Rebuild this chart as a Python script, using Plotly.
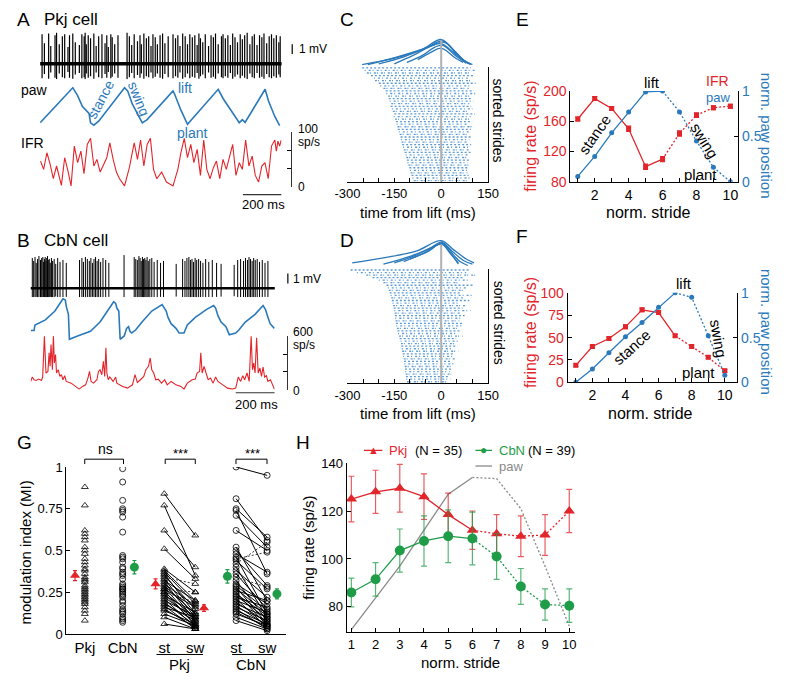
import plotly.graph_objects as go

# ======================= DATA =======================
# ---- Panel A : Pkj cell (time in ms) ----
A_spike_t = [10, 22, 44, 55, 77, 85, 99, 115, 127, 144, 152, 169, 182, 203, 216, 228, 233, 239, 249, 261,
             278, 290, 303, 320, 336, 345, 353, 366, 373, 386, 403, 450, 462, 474, 487, 504, 517, 524, 537, 550,
             562, 574, 584, 596, 607, 621, 634, 646, 663, 688, 701, 713, 724, 738, 751, 763, 775, 788, 801, 813,
             822, 830, 842, 855, 872, 885, 897, 908, 922, 939, 947, 959, 972, 985, 997, 1009, 1022, 1036, 1047, 1059,
             1072, 1086, 1098, 1109, 1123, 1136, 1148, 1159, 1173, 1186, 1198, 1210, 1223, 1236, 1243]
A_spike_mv = [3.0, 2.1, 3.1, 1.8, 2.9, 3.2, 2.0, 2.8, 3.0, 1.7, 2.9, 3.1, 2.2, 1.9, 3.0, 2.8, 3.2, 2.0, 2.9, 2.6,
              3.1, 1.8, 2.8, 3.0, 2.1, 2.9, 1.7, 3.0, 2.7, 2.0, 2.9, 3.2, 2.8, 1.9, 3.0, 2.3, 2.9, 2.0, 3.1, 2.6,
              2.8, 1.8, 3.0, 2.7, 2.0, 2.9, 3.1, 2.1, 2.8, 3.0, 2.6, 2.9, 1.8, 3.1, 2.8, 2.0, 3.0, 2.7, 2.9, 1.9,
              3.1, 2.6, 2.2, 3.0, 1.8, 2.9, 2.7, 3.1, 2.0, 2.8, 3.0, 2.6, 2.9, 1.9, 3.1, 2.7, 2.2, 3.0, 2.5, 2.9,
              3.2, 2.0, 2.8, 3.0, 1.9, 2.9, 2.7, 3.1, 2.1, 2.8, 3.0, 2.6, 2.9, 2.2, 2.8]
A_paw_t = [0, 169, 194, 219, 253, 261, 278, 303, 437, 453, 477, 512, 529, 554, 688, 696, 729, 763,
           922, 948, 998, 1031, 1047, 1061, 1165, 1182, 1215, 1240]
A_paw_v = [0.09, 0.98, 0.78, 0.50, 0.33, 0.09, 0.03, 0.13, 0.98, 0.90, 0.57, 0.25, 0.09, 0.17, 0.90, 0.82, 0.41, 0.05,
           0.94, 0.70, 0.33, 0.09, 0.17, 0.10, 0.94, 0.65, 0.25, 0.02]
A_ifr_t = [2, 18, 35, 52, 68, 85, 110, 127, 144, 160, 177, 194, 211, 227, 244, 261, 278, 294, 311, 328,
           345, 361, 378, 395, 411, 437, 462, 487, 504, 520, 537, 554, 571, 587, 604, 629, 654, 688, 713, 729,
           746, 763, 780, 796, 813, 830, 847, 863, 880, 897, 913, 930, 947, 964, 980, 997, 1014, 1031, 1047, 1064,
           1081, 1098, 1114, 1131, 1148, 1164, 1181, 1198, 1215, 1223, 1231, 1240, 1248]
A_ifr_v = [47, 32, 62, 41, 15, 38, 3, 53, 29, 2, 74, 44, 65, 24, 77, 88, 38, 50, 27, 41,
           53, 80, 50, 27, 15, 2, 35, 80, 50, 85, 38, 77, 88, 32, 15, 27, 9, 2, 32, 62,
           88, 53, 77, 44, 68, 21, 85, 32, 15, 35, 47, 15, 50, 32, 53, 77, 21, 44, 32, 85,
           38, 56, 21, 9, 38, 44, 15, 74, 85, 65, 83, 74, 85]

# ---- Panel B : CbN cell (time in ms) ----
B_spike_t = [8, 15, 22, 28, 35, 42, 50, 56, 62, 66, 70, 74, 78, 82, 86, 90, 95, 100, 106, 112, 120, 128, 138, 150, 165, 182,
             250, 262, 270, 280, 290, 300, 308, 316, 324, 332, 340, 348, 358, 370, 384, 400,
             478,
             530, 538, 546, 554, 560, 566, 572, 578, 584, 590, 596, 602, 610, 620, 632, 648, 665, 680,
             745,
             778, 790, 800, 810, 818, 826, 834, 842, 850, 860, 870, 882, 896, 912, 930, 952, 975,
             1042, 1060, 1075, 1090, 1100, 1110, 1118, 1126, 1134, 1142, 1150, 1160, 1172, 1186, 1200, 1215]
B_spike_mv = [3.1, 2.8, 3.2, 2.6, 3.0, 3.3, 2.9, 3.1, 3.2, 2.7, 3.0, 3.2, 2.8, 3.1, 3.3, 2.9, 3.0, 2.6, 3.1, 2.8,
              3.0, 2.5, 3.1, 2.7, 2.9, 2.6,
              2.9, 3.1, 2.7, 3.2, 3.0, 2.8, 3.1, 2.6, 3.0, 3.2, 2.8, 3.0, 2.7, 3.1, 2.9, 2.6,
              3.4,
              3.2, 3.0, 2.9, 3.3, 3.1, 2.8, 3.2, 3.0, 3.1, 2.9, 3.2, 2.8, 3.0, 3.1, 2.7, 2.9, 2.6, 2.8,
              2.5,
              3.0, 2.8, 3.1, 3.2, 2.9, 3.0, 2.7, 3.1, 2.9, 3.0, 2.8, 2.6, 3.0, 2.7, 2.9, 2.6, 2.5,
              2.4, 2.9, 3.0, 2.8, 3.1, 2.9, 3.2, 3.0, 2.8, 3.1, 2.9, 3.0, 2.7, 2.9, 2.6, 2.8]
B_paw_t = [0, 17, 22, 75, 124, 165, 177, 182, 193, 198, 240, 306, 355, 405, 425, 435, 441, 451, 458, 479,
           491, 501, 508, 517, 537, 570, 620, 673, 686, 694, 703, 719, 744, 760, 785, 802, 843, 901, 937, 947,
           959, 975, 1000, 1017, 1050, 1066, 1099, 1149, 1190, 1202, 1215, 1226, 1248]
B_paw_v = [0.23, 0.23, 0.36, 0.48, 0.69, 0.98, 0.95, 0.80, 0.61, 0.02, 0.10, 0.21, 0.43, 0.76, 0.91, 0.87, 0.76, 0.69, 0.02, 0.10,
           0.28, 0.32, 0.21, 0.17, 0.24, 0.43, 0.69, 0.84, 0.76, 0.69, 0.54, 0.39, 0.28, 0.17, 0.17, 0.36, 0.54, 0.73, 0.82, 0.76,
           0.58, 0.43, 0.32, 0.13, 0.17, 0.24, 0.43, 0.61, 0.82, 0.73, 0.54, 0.39, 0.28]
B_ifr_t = [0, 8, 17, 28, 41, 55, 61, 70, 78, 88, 94, 99, 104, 111, 116, 121, 127, 132, 141, 149,
           157, 165, 174, 182, 207, 232, 248, 265, 281, 293, 301, 309, 322, 339, 347, 355, 364, 372, 379, 385,
           390, 397, 405, 422, 435, 441, 471, 496, 521, 534, 546, 562, 579, 590, 603, 612, 620, 630, 640, 653,
           670, 686, 699, 719, 744, 769, 785, 802, 815, 827, 843, 852, 865, 871, 878, 888, 898, 909, 921, 934,
           947, 959, 984, 1008, 1033, 1050, 1063, 1075, 1086, 1096, 1108, 1119, 1129, 1136, 1142, 1149, 1157, 1165, 1174, 1182,
           1190, 1198, 1207, 1215, 1228, 1240, 1248]
B_ifr_v = [94, 143, 113, 105, 120, 105, 143, 600, 188, 206, 413, 263, 506, 225, 610, 300, 394, 188, 225, 150,
           169, 113, 158, 94, 75, 38, 8, 38, 56, 131, 206, 94, 75, 113, 206, 225, 169, 319, 150, 469,
           188, 113, 143, 94, 143, 75, 38, 19, 56, 169, 83, 113, 150, 225, 263, 356, 225, 188, 113, 120,
           75, 113, 56, 94, 56, 38, 8, 75, 94, 113, 120, 188, 206, 413, 188, 263, 188, 113, 131, 75,
           143, 94, 56, 19, 8, 19, 143, 94, 158, 113, 188, 94, 600, 225, 300, 188, 581, 188, 244, 150,
           255, 143, 158, 94, 113, 38, 8]

# ---- Panels C / D : sorted strides (raster spans, ms) and paw trajectories ----
C_row_start = [-253, -245, -238, -225, -215, -212, -200, -195, -185, -178, -176, -170, -168, -165, -160, -162,
               -158, -155, -150, -152, -148, -145, -143, -140, -139, -136, -133, -130, -129, -127, -125, -122,
               -120, -117, -114, -112, -110, -108, -105, -102, -100, -98, -95, -92, -88]
C_row_end = [95, 110, 90, 105, 85, 100, 110, 95, 88, 102, 115, 92, 98, 105, 90, 96, 100, 85, 108, 94, 90, 99,
             87, 103, 95, 92, 88, 97, 90, 84, 96, 92, 88, 94, 86, 90, 95, 85, 92, 88, 90, 84, 88, 92, 85]
C_curve_t = [[-253, -150, -60, 0, 40, 70, 90],
             [-235, -140, -50, 5, 45, 75, 95],
             [-200, -120, -40, 10, 50, 80, 100],
             [-150, -90, -30, 0, 40, 75, 95],
             [-110, -60, -20, 5, 45, 80],
             [-75, -35, -5, 10, 40, 70]]
C_curve_v = [[0.07, 0.30, 0.62, 0.97, 0.60, 0.25, 0.10],
             [0.07, 0.35, 0.66, 0.92, 0.50, 0.20, 0.08],
             [0.10, 0.35, 0.70, 0.87, 0.45, 0.15, 0.08],
             [0.10, 0.40, 0.75, 0.82, 0.50, 0.20, 0.10],
             [0.15, 0.40, 0.70, 0.76, 0.40, 0.12],
             [0.25, 0.50, 0.65, 0.62, 0.35, 0.15]]

D_row_start = [-290, -270, -240, -220, -200, -185, -175, -171, -168, -165, -162, -160, -158, -156, -154, -152,
               -150, -149, -148, -147, -146, -145, -144, -142, -140, -138, -135, -133, -130, -129, -128, -126,
               -125, -123, -122, -120, -119, -118, -117, -116, -115, -114, -113, -112, -110]
D_row_end = [90, 80, 110, 70, 95, 60, 105, 85, 75, 65, 100, 70, 90, 55, 80, 68, 95, 60, 75, 62, 58, 70,
             65, 55, 60, 50, 68, 48, 58, 45, 52, 40, 55, 42, 38, 45, 35, 40, 30, 36, 28, 32, 25, 30, 22]
D_curve_t = [[-285, -180, -80, 0, 40, 80, 105],
             [-185, -100, -30, 0, 35, 70, 100],
             [-150, -80, -20, 5, 40, 60, 85],
             [-120, -60, -10, 5, 30, 55],
             [-100, -40, 0, 25, 55]]
D_curve_v = [[0.15, 0.35, 0.60, 1.00, 0.65, 0.30, 0.15],
             [0.10, 0.40, 0.75, 0.95, 0.60, 0.25, 0.10],
             [0.15, 0.45, 0.80, 0.90, 0.45, 0.20, 0.05],
             [0.20, 0.50, 0.85, 0.85, 0.50, 0.15],
             [0.30, 0.60, 0.90, 0.60, 0.10]]

# ---- Panels E / F : normalized stride ----
strides = [1, 2, 3, 4, 5, 6, 7, 8, 9, 10]
E_ifr = [163, 190, 177, 150, 100, 110, 144, 168, 178, 180]
E_ifr_err = [2.5, 2.5, 2.5, 3.5, 3.5, 3.5, 3.5, 3, 2.5, 2.5]
E_paw = [0.06, 0.28, 0.54, 0.77, 0.99, 1.0, 0.77, 0.45, 0.16, 0.0]
E_lift = 6
F_ifr = [19, 40, 49, 62, 81, 78, 52, 40, 28, 13]
F_ifr_err = [1.5, 1.5, 1.5, 2, 2, 2, 1.5, 1.5, 1.5, 1.5]
F_paw = [0.0, 0.15, 0.33, 0.51, 0.67, 0.84, 1.0, 0.95, 0.52, 0.08]
F_lift = 7

# ---- Panel G : modulation index ----
G_pkj = [0.88, 0.77, 0.62, 0.60, 0.58, 0.56, 0.52, 0.50, 0.48, 0.45, 0.43, 0.41, 0.39, 0.38, 0.36, 0.34, 0.33,
         0.32, 0.31, 0.29, 0.28, 0.27, 0.26, 0.25, 0.24, 0.23, 0.22, 0.21, 0.20, 0.19, 0.18, 0.16, 0.14, 0.12, 0.08]
G_cbn = [0.99, 0.91, 0.80, 0.75, 0.74, 0.73, 0.70, 0.61, 0.47, 0.46, 0.45, 0.43, 0.40, 0.39, 0.37, 0.36, 0.35,
         0.33, 0.30, 0.29, 0.28, 0.27, 0.26, 0.25, 0.24, 0.23, 0.22, 0.20, 0.19, 0.17, 0.15, 0.14, 0.13, 0.12,
         0.10, 0.09, 0.08, 0.07, 0.27]
G_pkj_st = [0.84, 0.77, 0.62, 0.51, 0.39, 0.38, 0.37, 0.36, 0.35, 0.34, 0.33, 0.32, 0.31, 0.30, 0.29, 0.28, 0.27,
            0.26, 0.25, 0.25, 0.24, 0.23, 0.22, 0.21, 0.20, 0.19, 0.18, 0.17, 0.16, 0.15, 0.14, 0.12, 0.10, 0.06, 0.27]
G_pkj_sw = [0.59, 0.35, 0.40, 0.33, 0.25, 0.20, 0.18, 0.12, 0.15, 0.30, 0.10, 0.20, 0.08, 0.17, 0.12, 0.07, 0.16,
            0.05, 0.10, 0.19, 0.06, 0.13, 0.09, 0.04, 0.11, 0.05, 0.08, 0.03, 0.10, 0.04, 0.06, 0.05, 0.03, 0.03, 0.25]
G_pkj_ns = [9, 19, 34]
G_cbn_st = [1.00, 0.81, 0.75, 0.74, 0.71, 0.62, 0.52, 0.50, 0.48, 0.46, 0.44, 0.42, 0.40, 0.38, 0.36, 0.34, 0.32,
            0.30, 0.29, 0.28, 0.27, 0.26, 0.25, 0.24, 0.23, 0.22, 0.21, 0.20, 0.19, 0.18, 0.17, 0.16, 0.15, 0.14,
            0.13, 0.12, 0.10, 0.08, 0.45]
G_cbn_sw = [0.95, 0.56, 0.58, 0.36, 0.52, 0.50, 0.20, 0.29, 0.37, 0.12, 0.27, 0.55, 0.10, 0.22, 0.15, 0.28, 0.08,
            0.18, 0.14, 0.06, 0.12, 0.20, 0.05, 0.11, 0.09, 0.16, 0.04, 0.13, 0.07, 0.10, 0.05, 0.08, 0.03, 0.06,
            0.04, 0.05, 0.03, 0.02, 0.49]
G_cbn_ns = [11, 15, 38]
G_mean = {'pkj': (0.35, 0.03), 'cbn': (0.40, 0.04), 'pkj_st': (0.30, 0.03),
          'pkj_sw': (0.155, 0.02), 'cbn_st': (0.345, 0.04), 'cbn_sw': (0.24, 0.03)}
G_labels = ['Pkj', 'CbN', 'st', 'sw', 'st', 'sw']

# ---- Panel H : population firing rate ----
H_pkj = [125, 128, 129.5, 126, 118.5, 112, 110.5, 109.5, 110, 120]
H_pkj_err = [9.5, 9, 10, 9.5, 9, 8, 8, 8.5, 8.5, 9]
H_cbn = [86, 91.5, 103.5, 107.5, 109.5, 108.5, 101, 88.5, 81, 80.5]
H_cbn_err = [6, 7, 9, 10.5, 11, 11, 9.5, 7.5, 6.5, 7]
H_paw = [70.5, 83.5, 97, 112, 127, 134, 133.5, 121, 97, 72]
H_lift = 6

# ======================= STYLE / LAYOUT =======================
BLUE = '#2a79bb'
RASTER = '#5c9bd6'
RED = '#e2252b'
GREEN = '#1f9c48'
GREY = '#8a8a8a'
FONT = 'Liberation Sans, Arial, sans-serif'
W, H = 787, 683
RASTER_DASHES = ['2px,2px', '1px,3px,2px,2px', '2px,1px,1px,3px']


def X(px):
    return px / W


def Y(py):
    return 1 - py / H


# G slot positions (layout)
G_POS = {'pkj': 1.0, 'cbn': 2.0, 'pkj_st': 3.1, 'pkj_sw': 3.92, 'cbn_st': 5.0, 'cbn_sw': 5.82}
G_MPOS = {'pkj': 0.74, 'cbn': 2.31, 'pkj_st': 2.87, 'pkj_sw': 4.15, 'cbn_st': 4.77, 'cbn_sw': 6.08}

fig = go.Figure()


def add(tr):
    tr.hoverinfo = 'skip'
    fig.add_trace(tr)


def spike_xy(times, mv, down):
    xs, ys = [], []
    for t, u in zip(times, mv):
        xs += [t, t, None]
        ys += [-u * down, u, None]
    return xs, ys


# ---- A ----
xs, ys = spike_xy(A_spike_t, A_spike_mv, 0.5)
add(go.Scatter(x=xs, y=ys, mode='lines', line=dict(color='black', width=1.2), xaxis='x', yaxis='y'))
add(go.Scatter(x=A_paw_t, y=A_paw_v, mode='lines', line=dict(color=BLUE, width=1.6), xaxis='x', yaxis='y2'))
add(go.Scatter(x=A_ifr_t, y=A_ifr_v, mode='lines', line=dict(color=RED, width=1.1), xaxis='x', yaxis='y3'))
# ---- B ----
xs, ys = spike_xy(B_spike_t, B_spike_mv, 0.34)
add(go.Scatter(x=xs, y=ys, mode='lines', line=dict(color='black', width=1), xaxis='x2', yaxis='y4'))
add(go.Scatter(x=B_paw_t, y=B_paw_v, mode='lines', line=dict(color=BLUE, width=1.6), xaxis='x2', yaxis='y5'))
add(go.Scatter(x=B_ifr_t, y=B_ifr_v, mode='lines', line=dict(color=RED, width=1.1), xaxis='x2', yaxis='y6'))


# ---- C / D ----
def raster(starts, ends, xa, ya):
    for j, dash in enumerate(RASTER_DASHES):
        xs, ys = [], []
        for i, (s, e) in enumerate(zip(starts, ends)):
            if i % len(RASTER_DASHES) == j:
                xs += [s, e, None]
                ys += [i + 1, i + 1, None]
        add(go.Scatter(x=xs, y=ys, mode='lines', line=dict(color=RASTER, width=1.3, dash=dash),
                       xaxis=xa, yaxis=ya))


raster(C_row_start, C_row_end, 'x3', 'y7')
for t, v in zip(C_curve_t, C_curve_v):
    add(go.Scatter(x=t, y=v, mode='lines', line=dict(color=BLUE, width=1.3, shape='spline'), xaxis='x3', yaxis='y8'))
raster(D_row_start, D_row_end, 'x4', 'y9')
for t, v in zip(D_curve_t, D_curve_v):
    add(go.Scatter(x=t, y=v, mode='lines', line=dict(color=BLUE, width=1.3, shape='spline'), xaxis='x4', yaxis='y10'))


# ---- E / F ----
def stride_panel(ifr, err, paw, lift, xa, ya, ya2):
    k = strides.index(lift)
    add(go.Scatter(x=strides[:k + 1], y=paw[:k + 1], mode='lines', line=dict(color=BLUE, width=1.3), xaxis=xa, yaxis=ya2))
    add(go.Scatter(x=strides[k:], y=paw[k:], mode='lines', line=dict(color=BLUE, width=1.3, dash='2px,2px'), xaxis=xa, yaxis=ya2))
    add(go.Scatter(x=strides, y=paw, mode='markers', marker=dict(color=BLUE, size=5), xaxis=xa, yaxis=ya2))
    add(go.Scatter(x=strides[:k + 1], y=ifr[:k + 1], mode='lines', line=dict(color=RED, width=1.3), xaxis=xa, yaxis=ya))
    add(go.Scatter(x=strides[k:], y=ifr[k:], mode='lines', line=dict(color=RED, width=1.3, dash='2px,2px'), xaxis=xa, yaxis=ya))
    add(go.Scatter(x=strides, y=ifr, mode='markers', marker=dict(color=RED, size=5, symbol='square'),
                   error_y=dict(type='data', array=err, color=RED, thickness=1.2, width=2.5), xaxis=xa, yaxis=ya))


stride_panel(E_ifr, E_ifr_err, E_paw, E_lift, 'x5', 'y11', 'y12')
stride_panel(F_ifr, F_ifr_err, F_paw, F_lift, 'x6', 'y13', 'y14')


# ---- G ----
def pairs(st, sw, ns, pst, psw, sym):
    sx, sy, dx, dy = [], [], [], []
    for i, (a, b) in enumerate(zip(st, sw)):
        if i in ns:
            dx += [pst, psw, None]; dy += [a, b, None]
        else:
            sx += [pst, psw, None]; sy += [a, b, None]
    add(go.Scatter(x=sx, y=sy, mode='lines', line=dict(color='black', width=1), xaxis='x7', yaxis='y15'))
    add(go.Scatter(x=dx, y=dy, mode='lines', line=dict(color='#333', width=1, dash='2px,2px'), xaxis='x7', yaxis='y15'))
    add(go.Scatter(x=[pst] * len(st) + [psw] * len(sw), y=st + sw, mode='markers',
                   marker=dict(symbol=sym, size=6, color='black', line=dict(width=0.8)), xaxis='x7', yaxis='y15'))


add(go.Scatter(x=[G_POS['pkj']] * len(G_pkj), y=G_pkj, mode='markers',
               marker=dict(symbol='triangle-up-open', size=6, color='black', line=dict(width=0.8)), xaxis='x7', yaxis='y15'))
add(go.Scatter(x=[G_POS['cbn']] * len(G_cbn), y=G_cbn, mode='markers',
               marker=dict(symbol='circle-open', size=6, color='black', line=dict(width=0.8)), xaxis='x7', yaxis='y15'))
pairs(G_pkj_st, G_pkj_sw, G_pkj_ns, G_POS['pkj_st'], G_POS['pkj_sw'], 'triangle-up-open')
pairs(G_cbn_st, G_cbn_sw, G_cbn_ns, G_POS['cbn_st'], G_POS['cbn_sw'], 'circle-open')
for key in G_mean:
    m, e = G_mean[key]
    is_pkj = key.startswith('pkj')
    add(go.Scatter(x=[G_MPOS[key]], y=[m], mode='markers',
                   marker=dict(symbol='triangle-up' if is_pkj else 'circle', size=9, color=RED if is_pkj else GREEN),
                   error_y=dict(type='data', array=[e], color=RED if is_pkj else GREEN, thickness=1.2, width=2),
                   xaxis='x7', yaxis='y15'))

# ---- H ----
k = strides.index(H_lift)
for vals, col in [(H_paw, GREY), (H_pkj, RED), (H_cbn, GREEN)]:
    add(go.Scatter(x=strides[:k + 1], y=vals[:k + 1], mode='lines', line=dict(color=col, width=1.3), xaxis='x8', yaxis='y16'))
    add(go.Scatter(x=strides[k:], y=vals[k:], mode='lines', line=dict(color=col, width=1.3, dash='2px,2px'), xaxis='x8', yaxis='y16'))
add(go.Scatter(x=strides, y=H_pkj, mode='markers', marker=dict(symbol='triangle-up', size=10, color=RED),
               error_y=dict(type='data', array=H_pkj_err, color='rgba(226,37,43,0.75)', thickness=1.2, width=3),
               xaxis='x8', yaxis='y16'))
add(go.Scatter(x=strides, y=H_cbn, mode='markers', marker=dict(symbol='circle', size=10, color=GREEN),
               error_y=dict(type='data', array=H_cbn_err, color='rgba(31,156,72,0.75)', thickness=1.2, width=3),
               xaxis='x8', yaxis='y16'))

# ======================= AXES =======================
base = dict(showgrid=False, zeroline=False, fixedrange=True)
tf = lambda s, c='black': dict(family=FONT, size=s, color=c)


def hid(**kw):
    d = dict(base); d.update(visible=False); d.update(kw); return d


def ax(**kw):
    d = dict(base); d.update(showline=True, linecolor='black', linewidth=1, ticks='inside', ticklen=4,
                             tickcolor='black', tickwidth=1); d.update(kw); return d


layout = dict(
    xaxis=hid(domain=[X(28), X(277)], range=[0, 1250], anchor='y'),
    yaxis=hid(domain=[Y(73), Y(25)], range=[-1.6, 3.2], anchor='x'),
    yaxis2=hid(domain=[Y(122), Y(80)], range=[-0.02, 1.02], anchor='x'),
    yaxis3=ax(domain=[Y(183.3), Y(126.7)], range=[0, 100], anchor='free', position=X(286.5), side='right',
              tickvals=[0, 33.3, 66.7, 100], showticklabels=False, linecolor='#333'),
    xaxis2=hid(domain=[X(18.3), X(270)], range=[0, 1250], anchor='y4'),
    yaxis4=hid(domain=[Y(298), Y(253)], range=[-1.1, 3.4], anchor='x2'),
    yaxis5=hid(domain=[Y(341), Y(296)], range=[-0.02, 1.02], anchor='x2'),
    yaxis6=ax(domain=[Y(391), Y(336)], range=[0, 600], anchor='free', position=X(283), side='right',
              tickvals=[0, 200, 400, 600], showticklabels=False, linecolor='#333'),
    xaxis3=ax(domain=[X(345), X(490)], range=[-300, 150], anchor='y7',
              tickvals=list(range(-300, 151, 50)),
              ticktext=[str(v) if v % 150 == 0 else '' for v in range(-300, 151, 50)], tickfont=tf(13)),
    yaxis7=ax(domain=[Y(178), Y(60)], range=[len(C_row_start) + 0.5, 0.5], anchor='x3', side='right',
              ticks='', showticklabels=False),
    yaxis8=hid(domain=[Y(60), Y(30)], range=[0, 1.05], anchor='x3'),
    xaxis4=ax(domain=[X(345), X(490)], range=[-300, 150], anchor='y9',
              tickvals=list(range(-300, 151, 50)),
              ticktext=[str(v) if v % 150 == 0 else '' for v in range(-300, 151, 50)], tickfont=tf(13)),
    yaxis9=ax(domain=[Y(384), Y(267)], range=[len(D_row_start) + 0.5, 0.5], anchor='x4', side='right',
              ticks='', showticklabels=False),
    yaxis10=hid(domain=[Y(265), Y(237)], range=[0, 1.05], anchor='x4'),
    xaxis5=ax(domain=[X(575), X(748)], range=[0.57, 10.46], anchor='y11', tickvals=strides,
              ticktext=[str(s) if s % 2 == 0 else '' for s in strides], tickfont=tf(14)),
    yaxis11=ax(domain=[Y(178), Y(85)], range=[80, 200], anchor='x5', tickvals=[80, 120, 160, 200], tickfont=tf(14, RED)),
    yaxis12=ax(domain=[Y(178), Y(85)], range=[0, 1], anchor='x5', overlaying='y11', side='right',
               tickvals=[0, 0.5, 1], ticktext=['0', '0.5', '1'], tickfont=tf(14, BLUE)),
    xaxis6=ax(domain=[X(572), X(747)], range=[0.5, 10.75], anchor='y13', tickvals=strides,
              ticktext=[str(s) if s % 2 == 0 else '' for s in strides], tickfont=tf(14)),
    yaxis13=ax(domain=[Y(383.3), Y(291.7)], range=[0, 100], anchor='x6', tickvals=[0, 25, 50, 75, 100], tickfont=tf(14, RED)),
    yaxis14=ax(domain=[Y(383.3), Y(291.7)], range=[0, 1], anchor='x6', overlaying='y13', side='right',
               tickvals=[0, 0.5, 1], ticktext=['0', '0.5', '1'], tickfont=tf(14, BLUE)),
    xaxis7=ax(domain=[X(55), X(282)], range=[0.51, 6.33], anchor='y15', ticks='',
              tickvals=[G_POS[k2] for k2 in ['pkj', 'cbn', 'pkj_st', 'pkj_sw', 'cbn_st', 'cbn_sw']],
              ticktext=G_labels, tickfont=tf(15)),
    yaxis15=ax(domain=[Y(641), Y(470)], range=[0, 1], anchor='x7', tickvals=[0, 0.25, 0.5, 0.75, 1],
               ticktext=['0', '0.25', '0.5', '0.75', '1'], tickfont=tf(13)),
    xaxis8=ax(domain=[X(344), X(580)], range=[0.8, 10.25], anchor='y16', tickvals=strides, tickfont=tf(13)),
    yaxis16=ax(domain=[Y(639), Y(466)], range=[69.5, 140], anchor='x8', tickvals=[80, 100, 120, 140], tickfont=tf(13)),
)
fig.update_layout(**layout)


# ======================= ANNOTATIONS =======================
def T(text, px, py, size=14, color='black', angle=0, xa='center'):
    return dict(text=text, x=X(px), y=Y(py), xref='paper', yref='paper', showarrow=False, xanchor=xa, yanchor='middle',
                textangle=angle, font=dict(family=FONT, size=size, color=color))


anns = [
    T('A', 2, 12, 19, xa='left'), T('Pkj cell', 30, 12, 17, xa='left'),
    T('1 mV', 293, 42, 12, xa='left'),
    T('paw', 6, 84, 14, xa='left'), T('IFR', 6, 138, 14, xa='left'),
    T('stance', 90, 94, 14, BLUE, -62), T('swing', 130, 93, 14, BLUE, 68),
    T('lift', 177, 82, 14, BLUE), T('plant', 185, 128, 14, BLUE),
    T('100', 292, 124, 12, xa='left'), T('sp/s', 292, 137, 12, xa='left'), T('0', 292, 183, 12, xa='left'),
    T('200 ms', 258, 201, 13),
    T('B', 2, 238, 19, xa='left'), T('CbN cell', 30, 238, 17, xa='left'),
    T('1 mV', 287, 277, 12, xa='left'),
    T('600', 287, 332, 12, xa='left'), T('sp/s', 287, 345, 12, xa='left'), T('0', 287, 392, 12, xa='left'),
    T('200 ms', 251, 406, 13),
    T('C', 345, 12, 19), T('sorted strides', 500, 115, 14, angle=90),
    T('time from lift (ms)', 418, 209, 15),
    T('D', 345, 238, 19), T('sorted strides', 501, 322, 14, angle=90),
    T('time from lift (ms)', 418, 415, 15),
    T('E', 526, 12, 19), T('lift', 659, 76, 15), T('IFR', 727, 75, 14, RED), T('paw', 727, 92, 13, BLUE),
    T('stance', 600, 130, 15, angle=-55), T('swing', 713, 136, 15, angle=58), T('plant', 709, 171, 15),
    T('firing rate (sp/s)', 534, 131, 16, RED, -90), T('norm. paw position', 777, 131, 15, BLUE, 90),
    T('norm. stride', 656, 209, 16),
    T('F', 525, 234, 19), T('lift', 692, 282, 15), T('swing', 728, 338, 15, angle=80),
    T('stance', 638, 348, 15, angle=-42), T('plant', 707, 373, 15),
    T('firing rate (sp/s)', 534, 332, 16, RED, -90), T('norm. paw position', 777, 332, 15, BLUE, 90),
    T('norm. stride', 658, 415, 16),
    T('G', 2, 445, 19, xa='left'), T('modulation index (MI)', 13, 558, 15, angle=-90),
    T('ns', 95, 452, 14), T('***', 173, 456, 13), T('***', 247, 456, 13),
    T('Pkj', 172, 672, 15), T('CbN', 245, 672, 15),
    T('H', 290, 445, 19, xa='left'), T('firing rate (sp/s)', 304, 553, 15, angle=-90),
    T('norm. stride', 462, 670, 15),
    T('▲', 371.5, 453, 11, RED), T('Pkj', 386, 453, 13, RED, xa='left'), T('(N = 35)', 413, 453, 13, xa='left'),
    T('●', 485.5, 453, 12, GREEN), T('CbN', 499, 453, 13, GREEN, xa='left'), T('(N = 39)', 529, 453, 13, xa='left'),
    T('paw', 499, 469, 13, GREY, xa='left'),
]
fig.update_layout(annotations=anns)


# ======================= SHAPES (scale bars, brackets, legend keys) =======================
def L(x0, y0, x1, y1, color='black', width=1, **kw):
    d = dict(type='line', x0=x0, y0=y0, x1=x1, y1=y1, line=dict(color=color, width=width))
    d.update(kw); return d


def bracket(px0, px1):
    return dict(type='path', path=f'M {X(px0)} {Y(467)} L {X(px0)} {Y(462)} L {X(px1)} {Y(462)} L {X(px1)} {Y(467)}',
                xref='paper', yref='paper', line=dict(color='black', width=1))


shapes = [
    L(0, 0, 1, 0, 'black', 3.5, xref='x domain', yref='y'),
    L(0, 0, 1, 0, 'black', 2.5, xref='x2 domain', yref='y4'),
    L(X(288), 1.0, X(288), 2.0, 'black', 1.2, xref='paper', yref='y'),
    L(X(283.5), 0.5, X(283.5), 1.5, 'black', 1.2, xref='paper', yref='y4'),
    L(1050, Y(191), 1250, Y(191), '#333', 1.2, xref='x', yref='paper'),
    L(1050, Y(394), 1250, Y(394), '#333', 1.2, xref='x2', yref='paper'),
    L(0, Y(178), 0, Y(33), '#b0b0b0', 2, xref='x3', yref='paper'),
    L(0, Y(384), 0, Y(242), '#b0b0b0', 2, xref='x4', yref='paper'),
    bracket(74, 114), bracket(157, 188), bracket(230, 262),
    L(X(148), Y(662), X(196), Y(662), xref='paper', yref='paper'),
    L(X(226), Y(662), X(268), Y(662), xref='paper', yref='paper'),
    L(X(362), Y(453), X(381), Y(453), RED, 1.3, xref='paper', yref='paper'),
    L(X(477), Y(453), X(494), Y(453), GREEN, 1.3, xref='paper', yref='paper'),
    L(X(477), Y(469), X(494), Y(469), GREY, 1.3, xref='paper', yref='paper'),
]
fig.update_layout(shapes=shapes)

fig.update_layout(width=W, height=H, margin=dict(l=0, r=0, t=0, b=0), paper_bgcolor='white',
                  plot_bgcolor='white', showlegend=False, font=dict(family=FONT, color='black'))
PAGE_FIX = ("document.documentElement.style.margin='0';document.documentElement.style.overflow='hidden';"
            "document.body.style.margin='0';document.body.style.padding='0';document.body.style.overflow='hidden';"
            "var gd=document.getElementById('{plot_id}');gd.style.position='fixed';gd.style.left='0px';gd.style.top='0px';")
fig.write_html('out.html', config={'displayModeBar': False}, post_script=PAGE_FIX)
